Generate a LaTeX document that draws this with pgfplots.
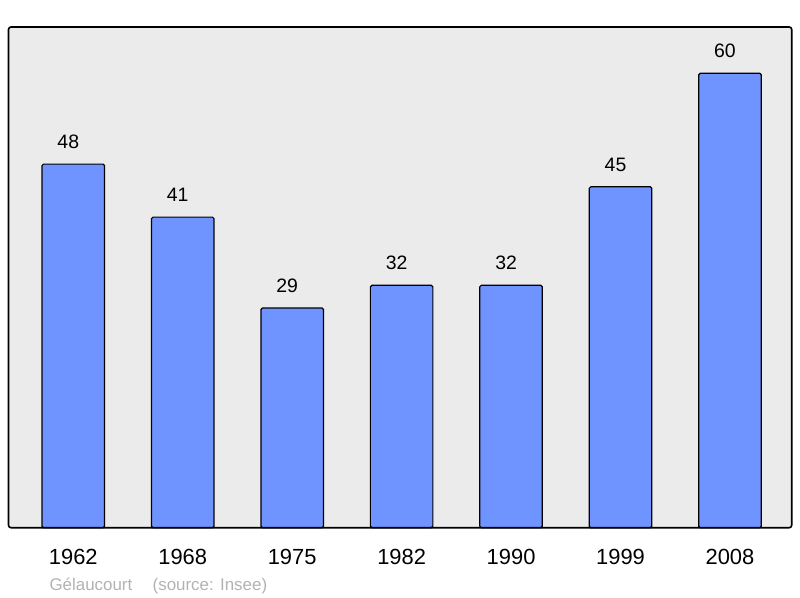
\documentclass[border=0pt]{standalone}
\usepackage{pgfplots}
\pgfplotsset{compat=1.18}
\usepackage{fontspec}
\setmainfont{Liberation Sans}
\definecolor{barblue}{RGB}{112,148,255}
\definecolor{plotbg}{RGB}{235,235,235}
\definecolor{srcgrey}{RGB}{178,178,178}

\begin{document}
\begin{tikzpicture}
\useasboundingbox (-8.5bp,-70.3bp) rectangle (791.5bp,527.7bp);
\begin{axis}[
  at={(0,0)}, anchor=south west,
  scale only axis, width=783.2bp, height=500.7bp,
  xmin=-0.592, xmax=6.564, ymin=0, ymax=66.1,
  axis background/.style={fill=plotbg},
  axis line style={draw=none},
  ybar, bar width=62.5bp, bar shift=0pt,
  xtick={0,1,2,3,4,5,6},
  xticklabels={1962,1968,1975,1982,1990,1999,2008},
  ytick=\empty, major tick length=0pt,
  xticklabel style={font=\fontsize{22}{26}\selectfont, anchor=center, yshift=-29.3bp},
  nodes near coords,
  nodes near coords style={font=\fontsize{19.5}{23}\selectfont, anchor=center,
    yshift=22bp, xshift=-5bp, black, /pgf/number format/assume math mode=true},
  clip=false,
]
\addplot[fill=barblue, draw=black, line width=1.2bp, rounded corners=1.5bp] coordinates {
(0,48) (1,41) (2,29) (3,32) (4,32) (5,45) (6,60)};
\draw[line width=1.6bp, rounded corners=2.5bp] (rel axis cs:0,0) rectangle (rel axis cs:1,1);
\end{axis}
\node[anchor=base west, text=srcgrey, font=\fontsize{17}{20}\selectfont, inner sep=0pt] at (40.8bp,-62.3bp) {Gélaucourt\hspace{1.2em}(source: Insee)};
\end{tikzpicture}
\end{document}
